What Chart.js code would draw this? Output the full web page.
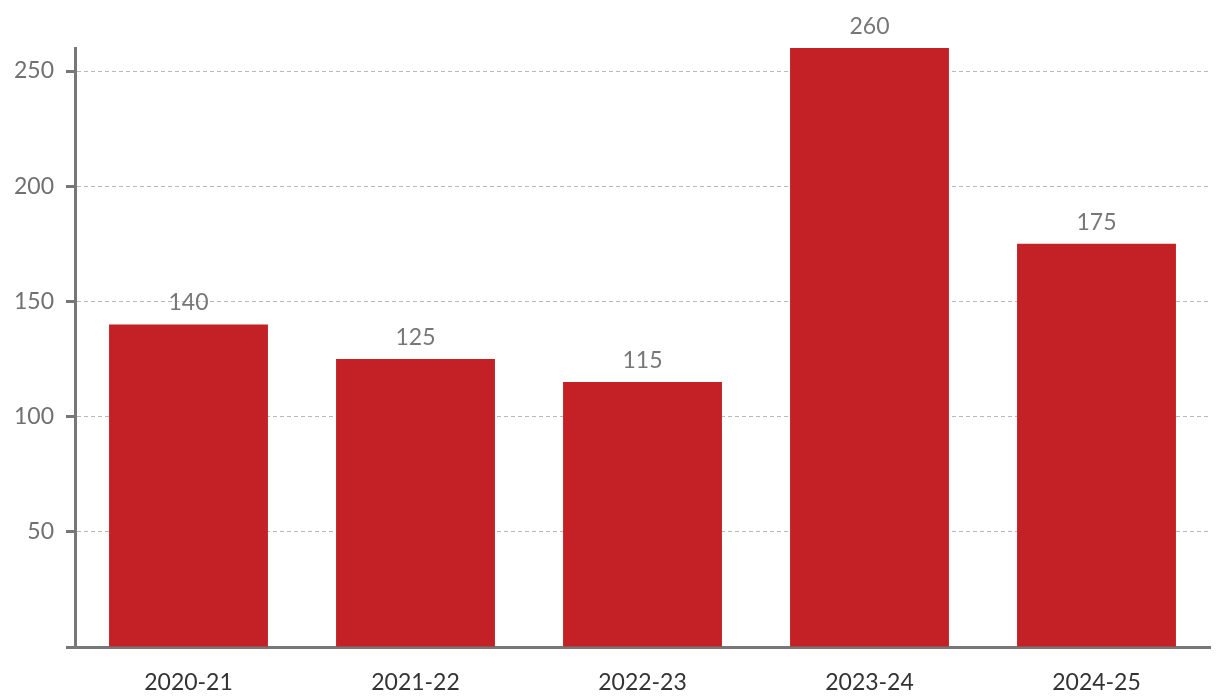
<!DOCTYPE html>
<html>
<head>
<meta charset="utf-8">
<script src="https://cdn.jsdelivr.net/npm/chart.js@4/dist/chart.umd.min.js"></script>
<style>
  html, body { margin: 0; padding: 0; background: #fff; }
  #wrap { width: 1220px; height: 700px; }
</style>
</head>
<body>
<div id="wrap"><canvas id="chart" width="1220" height="700"></canvas></div>
<script>
const seasons = ["2020-21", "2021-22", "2022-23", "2023-24", "2024-25"];
const values = [140, 125, 115, 260, 175];
const yTicks = [0, 50, 100, 150, 200, 250];

// labels above each bar
const barLabels = {
  id: "barLabels",
  afterDatasetsDraw(chart) {
    const ctx = chart.ctx;
    const meta = chart.getDatasetMeta(0);
    ctx.save();
    ctx.font = "23px Lato";
    ctx.fillStyle = "#777777";
    ctx.textAlign = "center";
    ctx.textBaseline = "alphabetic";
    meta.data.forEach((bar, i) => {
      ctx.fillText(String(values[i]), bar.x, bar.y - 14);
    });
    ctx.restore();
  }
};

const ctx = document.getElementById("chart").getContext("2d");
new Chart(ctx, {
  type: "bar",
  data: {
    labels: seasons,
    datasets: [{
      data: values,
      backgroundColor: "#c42127",
      borderWidth: 0,
      barPercentage: 0.7,
      categoryPercentage: 1.0
    }]
  },
  options: {
    responsive: false,
    animation: false,
    layout: { padding: { top: 48, right: 10, left: 0, bottom: 0 } },
    plugins: {
      legend: { display: false },
      tooltip: { enabled: false }
    },
    scales: {
      x: {
        grid: { display: false, drawTicks: false },
        border: { display: true, color: "#777777", width: 3 },
        ticks: {
          color: "#333333",
          font: { family: "Lato", size: 23 },
          padding: 22
        },
        afterFit: s => { s.height = 53; }
      },
      y: {
        min: 0,
        max: 260,
        afterBuildTicks: s => { s.ticks = yTicks.map(v => ({ value: v })); },
        grid: {
          color: c => c.tick && c.tick.value === 0 ? "rgba(0,0,0,0)" : "#b3babe",
          lineWidth: 1,
          tickColor: "#777777",
          tickWidth: 3,
          tickLength: 9
        },
        border: { display: true, color: "#777777", width: 3, dash: [4, 3] },
        ticks: {
          color: "#707070",
          font: { family: "Lato", size: 23 },
          padding: 12,
          callback: v => v === 0 ? "" : v
        },
        afterFit: s => { s.width = 75; }
      }
    }
  },
  plugins: [barLabels]
});
</script>
</body>
</html>
